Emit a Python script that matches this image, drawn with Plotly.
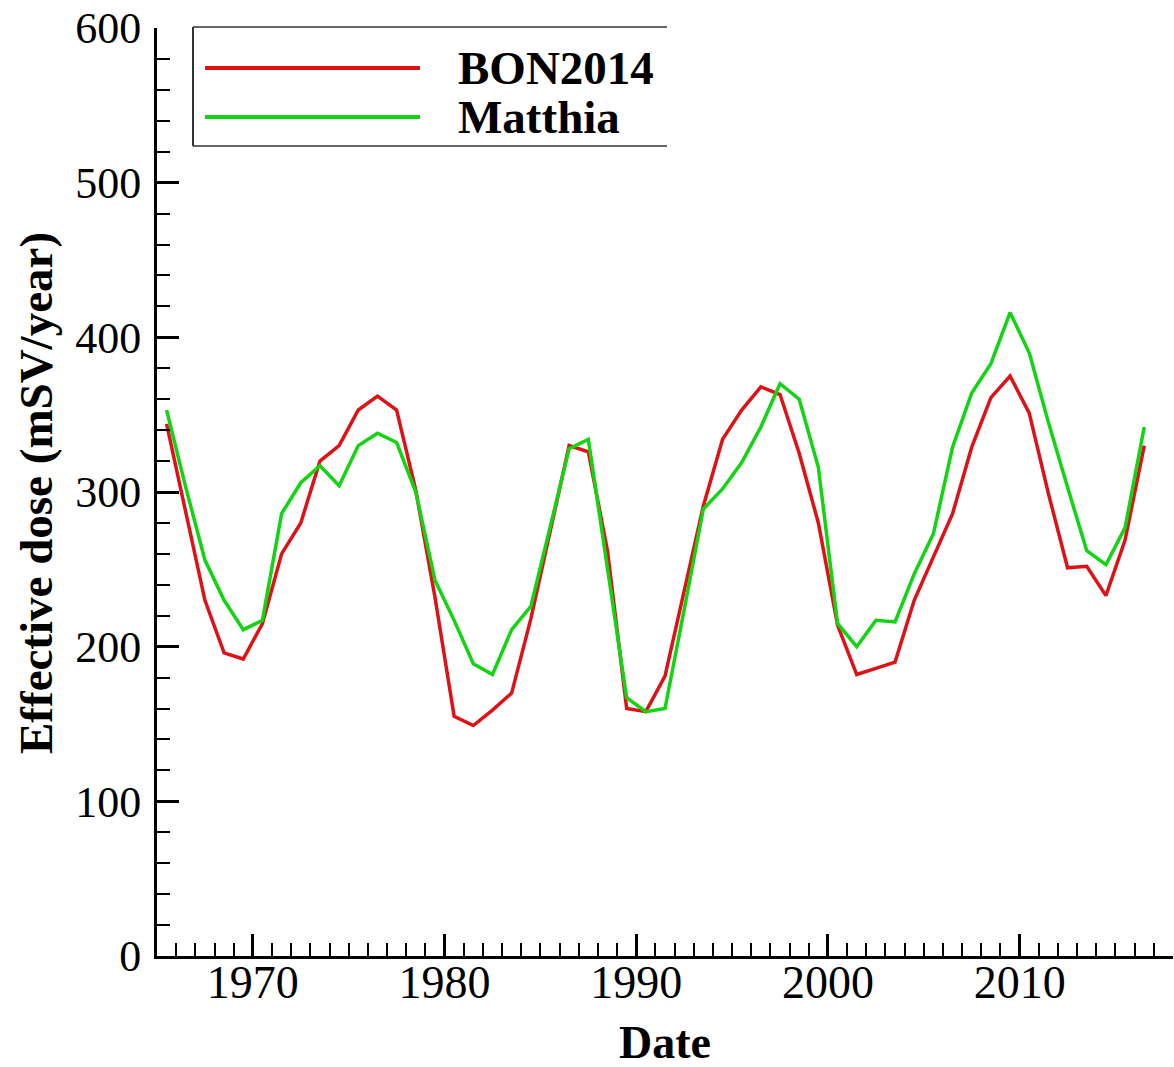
import plotly.graph_objects as go

years = [y + 0.5 for y in range(1965, 2017)]
bon2014 = [344, 288, 230, 196, 192, 215, 260, 280, 320, 330,
           353, 362, 353, 301, 232, 155, 149, 159, 170, 218,
           273, 330, 326, 262, 160, 158, 181, 237, 291, 334,
           353, 368, 363, 325, 280, 214, 182, 186, 190, 230,
           258, 286, 329, 361, 375, 351, 299, 251, 252, 233,
           269, 330]
matthia = [353, 303, 256, 230, 211, 217, 286, 306, 317, 304,
           330, 338, 332, 300, 243, 217, 189, 182, 211, 226,
           277, 328, 334, 252, 167, 158, 160, 224, 289, 302,
           319, 342, 370, 360, 316, 215, 200, 217, 216, 247,
           273, 329, 364, 383, 416, 390, 345, 303, 262, 253,
           277, 342]
series_names = ["BON2014", "Matthia"]
x_ticks = [1970, 1980, 1990, 2000, 2010]
y_ticks = [0, 100, 200, 300, 400, 500, 600]

RED = "rgb(222,18,22)"
GREEN = "rgb(18,212,18)"
FONT = "Liberation Serif"

fig = go.Figure()
fig.add_trace(go.Scatter(x=years, y=bon2014, mode="lines", name=series_names[0],
                         line=dict(color=RED, width=3.5), showlegend=False))
fig.add_trace(go.Scatter(x=years, y=matthia, mode="lines", name=series_names[1],
                         line=dict(color=GREEN, width=3.5), showlegend=False))

L, R, T, B = 157, 1, 28, 111
W, H = 1174, 1067
pw, ph = W - L - R, H - T - B


def px(xp):
    return (xp - L) / pw


def py(yp):
    return (H - B - yp) / ph


axis_common = dict(showline=True, linecolor="black", linewidth=3, ticks="inside",
                   tickcolor="black", tickwidth=3, ticklen=22, showgrid=False,
                   zeroline=False)

fig.update_xaxes(range=[1965, 2018], tickvals=x_ticks, ticktext=[str(v) for v in x_ticks],
                 minor=dict(ticks="inside", tick0=1965, dtick=1, ticklen=13, tickwidth=2,
                            tickcolor="black", showgrid=False),
                 tickfont=dict(family=FONT, size=46, color="black"),
                 ticklabelstandoff=-16, **axis_common)
fig.update_yaxes(range=[0, 600], tickvals=y_ticks, ticktext=[str(v) for v in y_ticks],
                 minor=dict(ticks="inside", tick0=0, dtick=20, ticklen=13, tickwidth=2,
                            tickcolor="black", showgrid=False),
                 tickfont=dict(family=FONT, size=44, color="black"),
                 ticklabelstandoff=4, **axis_common)

shapes = [
    # legend box (top, left, bottom)
    dict(type="line", xref="paper", yref="paper", x0=px(193), x1=px(667), y0=py(27), y1=py(27),
         line=dict(color="#666", width=2)),
    dict(type="line", xref="paper", yref="paper", x0=px(193), x1=px(667), y0=py(146), y1=py(146),
         line=dict(color="#666", width=2)),
    dict(type="line", xref="paper", yref="paper", x0=px(193), x1=px(193), y0=py(27), y1=py(146),
         line=dict(color="#333", width=2)),
    dict(type="line", xref="paper", yref="paper", x0=px(205), x1=px(420), y0=py(68), y1=py(68),
         line=dict(color=RED, width=4)),
    dict(type="line", xref="paper", yref="paper", x0=px(205), x1=px(420), y0=py(117), y1=py(117),
         line=dict(color=GREEN, width=4)),
]

annotations = [
    dict(text="<b>" + series_names[0] + "</b>", xref="paper", yref="paper", x=px(456), y=py(68),
         xanchor="left", yanchor="middle", showarrow=False,
         font=dict(family=FONT, size=47, color="black")),
    dict(text="<b>" + series_names[1] + "</b>", xref="paper", yref="paper", x=px(456), y=py(117),
         xanchor="left", yanchor="middle", showarrow=False,
         font=dict(family=FONT, size=47, color="black")),
    dict(text="<b>Effective dose (mSV/year)</b>", xref="paper", yref="paper", x=px(36), y=py(493),
         xanchor="center", yanchor="middle", textangle=-90, showarrow=False,
         font=dict(family=FONT, size=47, color="black")),
    dict(text="<b>Date</b>", xref="paper", yref="paper", x=px(665), y=py(1042),
         xanchor="center", yanchor="middle", showarrow=False,
         font=dict(family=FONT, size=46, color="black")),
]

fig.update_layout(width=W, height=H, margin=dict(l=L, r=R, t=T, b=B, autoexpand=False),
                  plot_bgcolor="white", paper_bgcolor="white", showlegend=False,
                  shapes=shapes, annotations=annotations)

fig.write_html("out.html")
